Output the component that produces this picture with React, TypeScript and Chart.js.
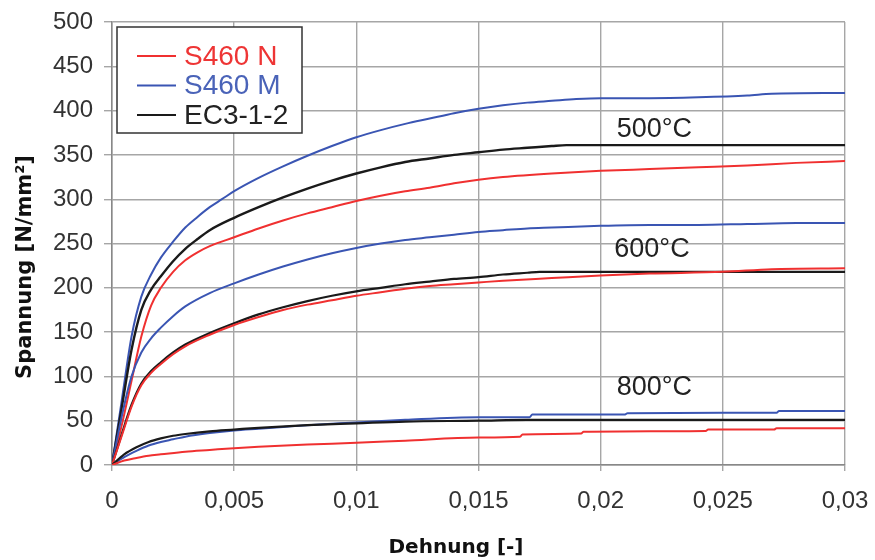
import React, { useEffect, useRef } from "react";
import { Chart, registerables } from "chart.js";

Chart.register(...registerables);

// ---- data (strain [-], stress [N/mm²]) ----
const strainM500 = [0, 0.0004, 0.0008, 0.0012, 0.0016, 0.002, 0.0025, 0.003, 0.0035, 0.004, 0.0045, 0.005, 0.006, 0.007, 0.008, 0.009, 0.01, 0.011, 0.012, 0.013, 0.014, 0.015, 0.016, 0.017, 0.018, 0.019, 0.02, 0.022, 0.024, 0.026, 0.027, 0.03];
const stressM500 = [0, 73, 145, 190, 215, 234, 252, 268, 280, 291, 300, 309, 324, 337, 349, 360, 370, 378, 385, 391, 397, 402, 406, 409, 411, 413, 414, 414, 415, 417, 419, 420];

const strainEC500 = [0, 0.0004, 0.0008, 0.0012, 0.0016, 0.002, 0.0025, 0.003, 0.0035, 0.004, 0.005, 0.006, 0.007, 0.008, 0.009, 0.01, 0.011, 0.012, 0.013, 0.014, 0.015, 0.016, 0.017, 0.018, 0.0186, 0.02, 0.025, 0.03];
const stressEC500 = [0, 65, 130, 175, 198, 213, 230, 244, 255, 265, 279, 291, 302, 312, 321, 329, 336, 342, 346, 350, 353, 356, 358, 360, 361, 361, 361, 361];

const strainN500 = [0, 0.0004, 0.0008, 0.0012, 0.0016, 0.002, 0.0025, 0.003, 0.0035, 0.004, 0.005, 0.006, 0.007, 0.008, 0.009, 0.01, 0.011, 0.012, 0.013, 0.014, 0.015, 0.016, 0.018, 0.02, 0.022, 0.024, 0.026, 0.028, 0.03];
const stressN500 = [0, 45, 95, 145, 180, 200, 218, 231, 240, 247, 257, 267, 276, 284, 291, 298, 304, 309, 313, 318, 322, 325, 329, 332, 334, 336, 338, 341, 343];

const strainM600 = [0, 0.0004, 0.0008, 0.0012, 0.0016, 0.002, 0.0025, 0.003, 0.004, 0.005, 0.006, 0.007, 0.008, 0.009, 0.01, 0.011, 0.012, 0.013, 0.014, 0.015, 0.016, 0.017, 0.018, 0.02, 0.022, 0.024, 0.026, 0.028, 0.03];
const stressM600 = [0, 55, 100, 127, 143, 155, 168, 179, 194, 205, 215, 224, 232, 239, 245, 250, 254, 257, 260, 263, 265, 267, 268, 270, 271, 271, 272, 273, 273];

const strainEC600 = [0, 0.0004, 0.0008, 0.0012, 0.0016, 0.002, 0.0025, 0.003, 0.004, 0.005, 0.006, 0.007, 0.008, 0.009, 0.01, 0.011, 0.012, 0.013, 0.014, 0.015, 0.016, 0.017, 0.0175, 0.02, 0.025, 0.03];
const stressEC600 = [0, 35, 68, 92, 106, 116, 127, 136, 149, 160, 170, 178, 185, 191, 196, 200, 204, 207, 210, 212, 215, 217, 218, 218, 218, 218];

const strainN600 = [0, 0.0004, 0.0008, 0.0012, 0.0016, 0.002, 0.0025, 0.003, 0.004, 0.005, 0.006, 0.007, 0.008, 0.009, 0.01, 0.011, 0.012, 0.013, 0.014, 0.015, 0.016, 0.018, 0.02, 0.022, 0.025, 0.027, 0.03];
const stressN600 = [0, 33, 66, 90, 104, 114, 125, 134, 147, 158, 167, 175, 181, 186, 191, 195, 199, 202, 204, 206, 208, 211, 214, 216, 218, 221, 222];

const strainM800 = [0, 0.0005, 0.001, 0.0015, 0.002, 0.0025, 0.003, 0.004, 0.005, 0.006, 0.007, 0.008, 0.01, 0.012, 0.015, 0.0171, 0.0172, 0.021, 0.0211, 0.025, 0.0272, 0.0273, 0.03];
const stressM800 = [0, 9, 16, 22, 26, 29, 32, 36, 39, 41, 43, 45, 48, 51, 54, 54, 57, 57, 58.5, 59, 59, 61, 61];

const strainEC800 = [0, 0.0005, 0.001, 0.0015, 0.002, 0.0025, 0.003, 0.004, 0.005, 0.006, 0.008, 0.01, 0.012, 0.015, 0.017, 0.02, 0.03];
const stressEC800 = [0, 12, 20, 26, 30, 33, 35, 38, 40, 42, 45, 47, 49, 50, 51, 51, 51];

const strainN800 = [0, 0.0005, 0.001, 0.0015, 0.002, 0.003, 0.004, 0.005, 0.006, 0.008, 0.01, 0.012, 0.015, 0.0167, 0.0168, 0.0192, 0.0193, 0.0243, 0.0244, 0.0271, 0.0272, 0.03];
const stressN800 = [0, 5, 8, 10.5, 12, 15, 17, 19, 20.5, 23, 25, 27.5, 31, 32, 34.5, 35.5, 37.5, 38.5, 40, 40, 41.5, 41.5];

const xTickLabels = ["0", "0,005", "0,01", "0,015", "0,02", "0,025", "0,03"];
const legendLabels = ["S460 N", "S460 M", "EC3-1-2"];
const tempLabels = ["500°C", "600°C", "800°C"];
const tempLabelStrain = [0.0222, 0.0221, 0.0222];
const tempLabelStress = [379, 243, 87];

const RED = "#f03030";
const BLUE = "#3a55b3";
const BLACK = "#1a1a1a";
const seriesColors = [RED, BLUE, BLACK];
const legendTextColors = ["#ee3535", "#4a63b8", "#222222"];

const toPoints = (xs: number[], ys: number[]) => xs.map((x, i) => ({ x, y: ys[i] }));

const overlayPlugin = {
  id: "overlay",
  afterDatasetsDraw(chart: any) {
    const { ctx, chartArea, scales } = chart;
    ctx.save();
    ctx.font = '27px "Liberation Sans", Arial, sans-serif';
    ctx.fillStyle = "#222";
    ctx.textAlign = "center";
    ctx.textBaseline = "middle";
    tempLabels.forEach((t, i) => {
      ctx.fillText(
        t,
        scales.x.getPixelForValue(tempLabelStrain[i]),
        scales.y.getPixelForValue(tempLabelStress[i])
      );
    });
    const bx = chartArea.left + 5;
    const by = chartArea.top + 5;
    const bw = 185;
    const bh = 106;
    ctx.fillStyle = "#fff";
    ctx.fillRect(bx, by, bw, bh);
    ctx.strokeStyle = "#333";
    ctx.lineWidth = 1.5;
    ctx.strokeRect(bx, by, bw, bh);
    legendLabels.forEach((label, i) => {
      const y = by + 29 + i * 29.5;
      ctx.strokeStyle = seriesColors[i];
      ctx.lineWidth = 2.2;
      ctx.beginPath();
      ctx.moveTo(bx + 20, y);
      ctx.lineTo(bx + 59, y);
      ctx.stroke();
      ctx.fillStyle = legendTextColors[i];
      ctx.font = '28px "Liberation Sans", Arial, sans-serif';
      ctx.textAlign = "left";
      ctx.textBaseline = "middle";
      ctx.fillText(label, bx + 67, y + 1);
    });
    ctx.restore();
  },
  afterDraw(chart: any) {
    const { ctx } = chart;
    ctx.save();
    ctx.fillStyle = "#111";
    ctx.textAlign = "center";
    ctx.textBaseline = "alphabetic";
    ctx.font = 'bold 20px "DejaVu Sans", sans-serif';
    ctx.fillText("Dehnung [-]", 456, 553);
    ctx.translate(31, 267);
    ctx.rotate(-Math.PI / 2);
    ctx.font = 'bold 21px "DejaVu Sans", sans-serif';
    ctx.fillText("Spannung [N/mm²]", 0, 0);
    ctx.restore();
  },
};

export default function App() {
  const canvasRef = useRef<HTMLCanvasElement | null>(null);

  useEffect(() => {
    if (!canvasRef.current) return;
    const ds = (label: string, xs: number[], ys: number[], color: string, width = 2) => ({
      label,
      data: toPoints(xs, ys),
      borderColor: color,
      backgroundColor: color,
      borderWidth: width,
      pointRadius: 0,
      cubicInterpolationMode: "monotone",
      fill: false,
    });
    const chart = new Chart(canvasRef.current, {
      type: "line",
      data: {
        datasets: [
          ds("S460 N 800", strainN800, stressN800, RED),
          ds("EC3 800", strainEC800, stressEC800, BLACK, 2.2),
          ds("S460 M 800", strainM800, stressM800, BLUE),
          ds("S460 N 600", strainN600, stressN600, RED),
          ds("EC3 600", strainEC600, stressEC600, BLACK, 2.2),
          ds("S460 M 600", strainM600, stressM600, BLUE),
          ds("S460 N 500", strainN500, stressN500, RED),
          ds("EC3 500", strainEC500, stressEC500, BLACK, 2.4),
          ds("S460 M 500", strainM500, stressM500, BLUE),
        ],
      },
      options: {
        responsive: false,
        animation: false,
        layout: { padding: { top: 22, right: 30, left: 0, bottom: 0 } },
        plugins: {
          legend: { display: false },
          tooltip: { enabled: false },
        },
        scales: {
          x: {
            type: "linear",
            min: 0,
            max: 0.03,
            ticks: {
              stepSize: 0.005,
              color: "#333",
              padding: 16,
              font: { family: '"Liberation Sans", Arial, sans-serif', size: 24 },
              callback: (value: any) => {
                const idx = Math.round(Number(value) / 0.005);
                return xTickLabels[idx] ?? "";
              },
            },
            grid: { color: "#a6a6a6", lineWidth: 1.4, tickLength: 6 },
            border: { color: "#888888", width: 1.5 },
            afterFit: (s: any) => {
              s.height = 95;
              s.paddingLeft = 0;
              s.paddingRight = 0;
            },
          },
          y: {
            type: "linear",
            min: 0,
            max: 500,
            ticks: {
              stepSize: 50,
              color: "#333",
              padding: 11,
              font: { family: '"Liberation Sans", Arial, sans-serif', size: 24 },
            },
            grid: { color: "#a6a6a6", lineWidth: 1.4, tickLength: 8 },
            border: { color: "#888888", width: 1.5 },
            afterFit: (s: any) => {
              s.width = 112;
              s.paddingTop = 0;
              s.paddingBottom = 0;
            },
          },
        },
      },
      plugins: [overlayPlugin],
    } as any);
    return () => chart.destroy();
  }, []);

  return (
    <div style={{ position: "absolute", left: 0, top: 0, width: 875, height: 560, background: "#fff" }}>
      <canvas ref={canvasRef} width={875} height={560} />
    </div>
  );
}
